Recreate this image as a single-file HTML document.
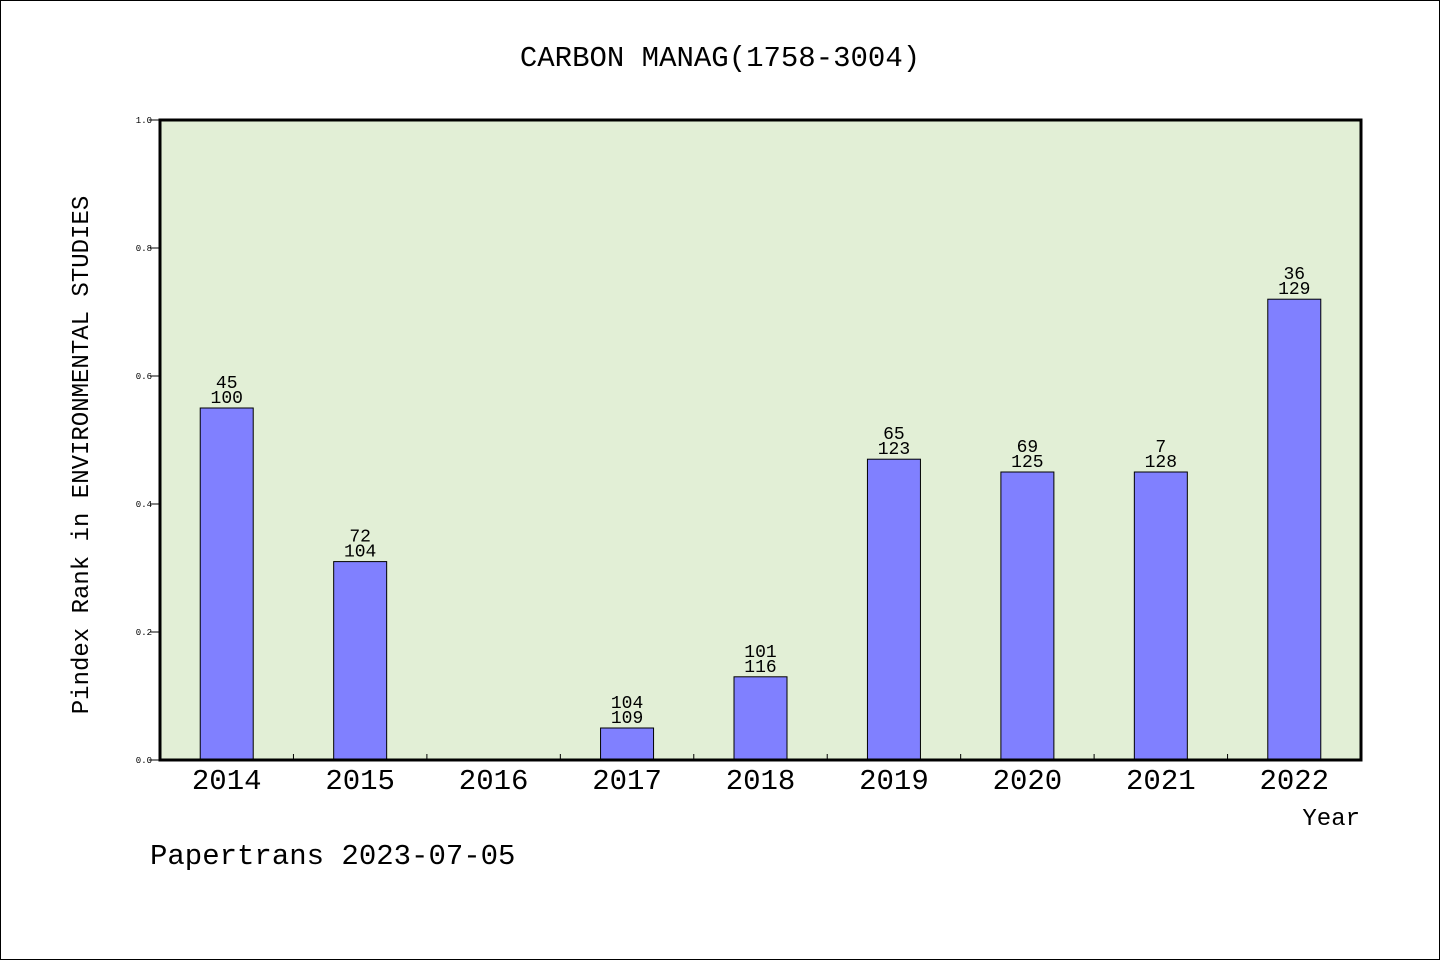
<!DOCTYPE html>
<html><head><meta charset="utf-8"><style>
body{margin:0;background:#fff;}
svg{display:block;font-family:"WenQuanYi Zen Hei","Liberation Mono",monospace;}
</style></head><body>
<svg id="chart" width="1440" height="960">
<rect x="0.5" y="0.5" width="1439" height="959" fill="#fff" stroke="#000"/>
<text x="720" y="66" text-anchor="middle" font-size="29">CARBON MANAG(1758-3004)</text>
<rect x="160" y="120" width="1201" height="640" fill="#e2efd6"/>
<g id="marks"></g>
<rect x="160" y="120" width="1201" height="640" fill="none" stroke="#000" stroke-width="3"/>
<text transform="translate(88,455) rotate(-90)" text-anchor="middle" font-size="24">Pindex Rank in ENVIRONMENTAL STUDIES</text>
<text x="1360" y="825" text-anchor="end" font-size="24">Year</text>
<text x="150" y="864" font-size="29">Papertrans 2023-07-05</text>
</svg>
<script>
const categories=["2014","2015","2016","2017","2018","2019","2020","2021","2022"];
const values=[0.55,0.31,0,0.05,0.13,0.47,0.45,0.45,0.72];
const ranks=["45","72","","104","101","65","69","7","36"];
const totals=["100","104","","109","116","123","125","128","129"];
const yTicks=[0,0.2,0.4,0.6,0.8,1.0];
const X0=160,X1=1361,Y0=760,Y1=120;
const slot=(X1-X0)/categories.length;
const xc=i=>X0+slot*(i+0.5);
const y=v=>Y0-(Y0-Y1)*v;
const NS="http://www.w3.org/2000/svg";
const g=document.getElementById('marks');
function mk(t,a){const e=document.createElementNS(NS,t);for(const k in a)e.setAttribute(k,a[k]);g.appendChild(e);return e;}
yTicks.forEach(t=>{
  const l=mk('line',{x1:150,x2:160,y1:y(t),y2:y(t),stroke:'#000'});
  
  
  const tx=mk('text',{x:152,y:y(t)+3,'text-anchor':'end','font-size':9});
  tx.textContent=t.toFixed(1);
  
  
});
categories.forEach((c,i)=>{
  if(i>0){const tk=mk('line',{x1:X0+slot*i,x2:X0+slot*i,y1:754,y2:760,stroke:'#000'});
  
  }
  const lb=mk('text',{x:xc(i),y:789,'text-anchor':'middle','font-size':29});
  lb.textContent=c;
  
  
  if(values[i]>0){
    const b=mk('rect',{x:xc(i)-26.5,y:y(values[i]),width:53,height:Y0-y(values[i]),fill:'#8080ff',stroke:'#000','stroke-width':1});
    
    
    const t1=mk('text',{x:xc(i),y:y(values[i])-20,'text-anchor':'middle','font-size':18});
    t1.textContent=ranks[i];
    
    
    const t2=mk('text',{x:xc(i),y:y(values[i])-5,'text-anchor':'middle','font-size':18});
    t2.textContent=totals[i];
    
    
  }
});
</script>
</body></html>
